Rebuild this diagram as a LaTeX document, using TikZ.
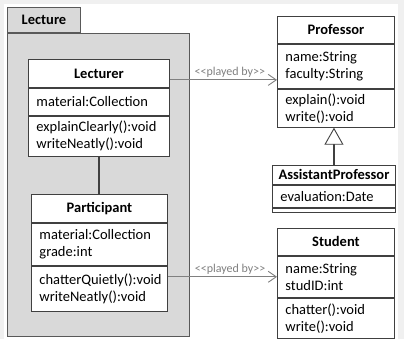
\documentclass[tikz,border=0pt]{standalone}
\usepackage{fontspec}
\setmainfont{Carlito}
\usetikzlibrary{positioning,arrows.meta}
\definecolor{FrameGray}{RGB}{240,240,240}
\definecolor{PackageGray}{RGB}{217,217,217}
\definecolor{PackageLine}{RGB}{89,89,89}
\definecolor{BoxLine}{RGB}{64,64,64}
\definecolor{RoleGray}{RGB}{128,128,128}
\tikzset{
  pkgtab/.style={draw=PackageLine,fill=PackageGray,line width=1pt,inner sep=0pt,
    minimum width=73pt,minimum height=25pt,font=\fontsize{14.5}{17}\selectfont\bfseries},
  pkgbody/.style={draw=PackageLine,fill=PackageGray,line width=1pt,inner sep=0pt,
    minimum width=182pt,minimum height=303pt},
  classname/.style={draw=BoxLine,fill=white,line width=0.9pt,inner sep=0pt,
    align=center,font=\fontsize{14.5}{17}\selectfont\bfseries},
  classpart/.style={draw=BoxLine,fill=white,line width=0.9pt,inner xsep=8pt,inner ysep=0pt,
    align=left,font=\fontsize{14.5}{17}\selectfont},
  playedby/.style={-{Straight Barb[length=8pt,width=11pt]},draw=RoleGray,line width=0.9pt},
  rolelabel/.style={font=\fontsize{12}{14}\selectfont,text=RoleGray,inner sep=2pt},
  assoc/.style={draw=BoxLine,line width=2pt},
  generalize/.style={-{Triangle[length=17pt,width=19pt,fill=white,line width=0.9pt]},
    draw=BoxLine,line width=1.8pt}
}
\begin{document}
\begin{tikzpicture}[x=1pt,y=1pt,node distance=0pt]
  % frame
  \fill[FrameGray] (0,0) rectangle (404,339);
  \fill[white] (4,0) rectangle (398,335);

  % package Lecture
  \node[pkgtab,anchor=north west] (tab) at (7,332) {Lecture};
  \node[pkgbody,anchor=north west] (pkg) at (tab.south west) {};

  % Lecturer
  \node[classname,minimum width=141pt,minimum height=28pt,anchor=north west] (lecName) at (28,280) {Lecturer};
  \node[classpart,text width=125pt,minimum height=27pt,below=of lecName] (lecAttr) {material:Collection};
  \node[classpart,text width=125pt,minimum height=40pt,below=of lecAttr] (lecOps) {explainClearly():void\\writeNeatly():void};

  % Participant
  \node[classname,minimum width=136pt,minimum height=28pt,anchor=north west] (parName) at (31,145) {Participant};
  \node[classpart,text width=120pt,minimum height=42pt,below=of parName] (parAttr) {material:Collection\\grade:int};
  \node[classpart,text width=120pt,minimum height=45pt,below=of parAttr] (parOps) {chatterQuietly():void\\writeNeatly():void};

  % Professor
  \node[classname,minimum width=117pt,minimum height=27pt,anchor=north west] (profName) at (277,323) {Professor};
  \node[classpart,text width=101pt,minimum height=44pt,below=of profName] (profAttr) {name:String\\faculty:String};
  \node[classpart,text width=101pt,minimum height=38pt,below=of profAttr] (profOps) {explain():void\\write():void};

  % AssistantProfessor
  \node[classname,minimum width=123pt,minimum height=19pt,anchor=north west] (apName) at (272,174) {AssistantProfessor};
  \node[classpart,text width=107pt,minimum height=22pt,below=of apName] (apAttr) {evaluation:Date};
  \node[classpart,text width=107pt,minimum height=4pt,below=of apAttr] (apOps) {};

  % Student
  \node[classname,minimum width=117pt,minimum height=27pt,anchor=north west] (stuName) at (277,111) {Student};
  \node[classpart,text width=101pt,minimum height=41pt,below=of stuName] (stuAttr) {name:String\\studID:int};
  \node[classpart,text width=101pt,minimum height=40pt,below=of stuAttr] (stuOps) {chatter():void\\write():void};

  % connectors
  \draw[assoc] (lecOps.south) -- (lecOps.south |- parName.north);
  \draw[playedby] ([yshift=8pt]lecName.south east) -- ([yshift=8pt]lecName.south east -| profAttr.west)
    node[rolelabel,pos=0.56,above] {<{}<played by>{}>};
  \draw[playedby] ([yshift=-11pt]parOps.north east) -- ([yshift=-11pt]parOps.north east -| stuAttr.west)
    node[rolelabel,pos=0.57,above] {<{}<played by>{}>};
  \draw[generalize] (apName.north) -- (apName.north |- profOps.south);
\end{tikzpicture}
\end{document}
